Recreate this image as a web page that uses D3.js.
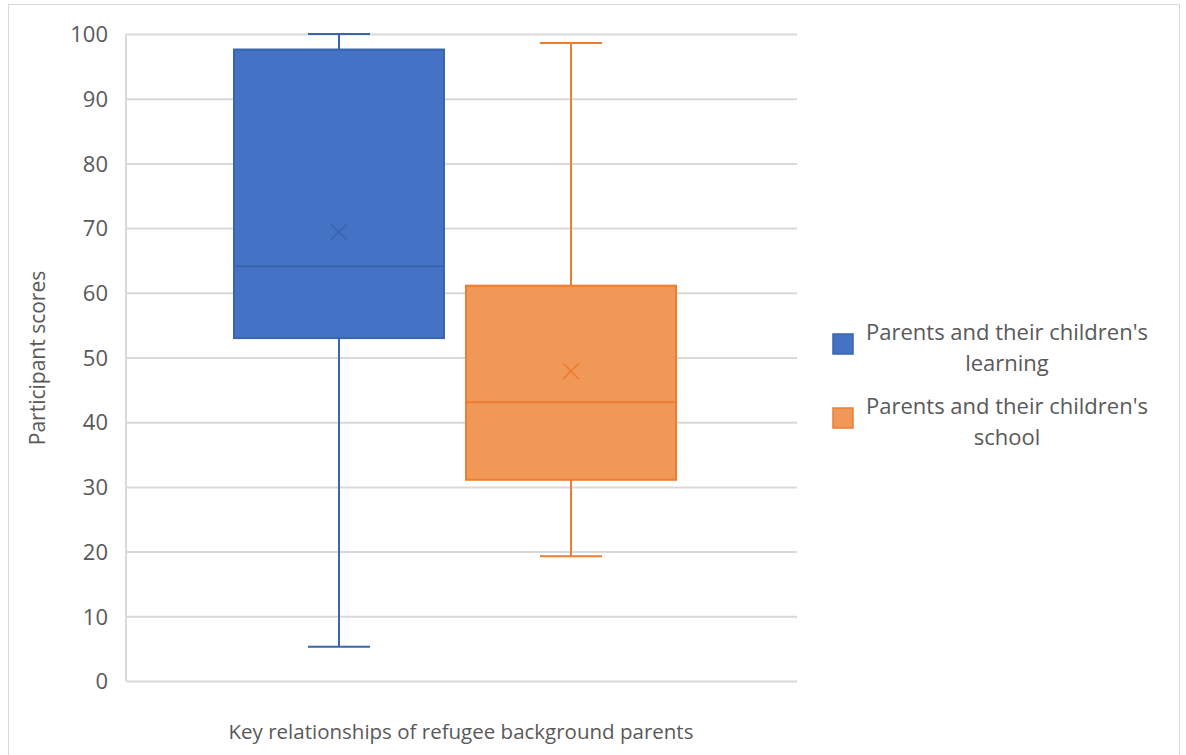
<!DOCTYPE html>
<html>
<head>
<meta charset="utf-8">
<script src="https://cdn.jsdelivr.net/npm/d3@7"></script>
<style>
  html, body { margin: 0; padding: 0; background: #fff; }
  svg { display: block; font-family: "Open Sans", "Noto Sans", sans-serif; }
</style>
</head>
<body>
<svg id="chart" width="1186" height="755"></svg>
<script>
// Box plot summary for each relationship series
const seriesNames = ["Parents and their children's learning", "Parents and their children's school"];
const legendLines = [["Parents and their children's", "learning"], ["Parents and their children's", "school"]];
const whiskerMin = [5.3, 19.3];
const q1 = [53.0, 31.1];
const median = [64.1, 43.1];
const q3 = [97.6, 61.1];
const whiskerMax = [100, 98.6];
const mean = [69.4, 47.9];
const fills = ["#4472C4", "#F09858"];
const strokes = ["#3A64AE", "#ED7D31"];
const yTicks = [0, 10, 20, 30, 40, 50, 60, 70, 80, 90, 100];
const categoryLabel = "Key relationships of refugee background parents";
const yTitle = "Participant scores";

const FONT = '"Open Sans", "Noto Sans", sans-serif';
const svg = d3.select("#chart");

// chart frame
svg.append("rect").attr("x", 8.5).attr("y", 4.5).attr("width", 1171).attr("height", 760)
  .attr("fill", "#fff").attr("stroke", "#d9d9d9").attr("stroke-width", 1);

const plot = { left: 126, right: 797, top: 34, bottom: 681 };

const y = d3.scaleLinear().domain([0, 100]).range([plot.bottom, plot.top]);
const x = d3.scaleBand().domain(seriesNames).range([234, 676]).paddingInner(0.095);

// gridlines and tick labels
const yAxis = d3.axisLeft(y).tickValues(yTicks).tickSize(-(plot.right - plot.left)).tickPadding(18);
const gAxis = svg.append("g").attr("transform", `translate(${plot.left},0)`).call(yAxis)
  .attr("font-family", FONT);
gAxis.select(".domain").remove();
gAxis.selectAll(".tick line").attr("stroke", "#d9d9d9").attr("stroke-width", 2);
gAxis.selectAll(".tick text").attr("fill", "#595959").attr("font-size", 22).attr("dy", "0.35em");
// left axis line
svg.append("line").attr("x1", plot.left).attr("x2", plot.left)
  .attr("y1", plot.top).attr("y2", plot.bottom).attr("stroke", "#d9d9d9").attr("stroke-width", 2);

// boxes
seriesNames.forEach((name, i) => {
  const g = svg.append("g");
  const x0 = x(name), w = x.bandwidth(), cx = x0 + w / 2;
  const capHalf = 31;
  // whiskers
  g.append("line").attr("x1", cx).attr("x2", cx).attr("y1", y(whiskerMax[i])).attr("y2", y(q3[i]))
    .attr("stroke", strokes[i]).attr("stroke-width", 2);
  g.append("line").attr("x1", cx).attr("x2", cx).attr("y1", y(q1[i])).attr("y2", y(whiskerMin[i]))
    .attr("stroke", strokes[i]).attr("stroke-width", 2);
  [whiskerMax[i], whiskerMin[i]].forEach(v => {
    g.append("line").attr("x1", cx - capHalf).attr("x2", cx + capHalf).attr("y1", y(v)).attr("y2", y(v))
      .attr("stroke", strokes[i]).attr("stroke-width", 2);
  });
  // box
  g.append("rect").attr("x", x0).attr("width", w).attr("y", y(q3[i])).attr("height", y(q1[i]) - y(q3[i]))
    .attr("fill", fills[i]).attr("stroke", strokes[i]).attr("stroke-width", 2);
  // median
  g.append("line").attr("x1", x0).attr("x2", x0 + w).attr("y1", y(median[i])).attr("y2", y(median[i]))
    .attr("stroke", strokes[i]).attr("stroke-width", 2);
  // mean marker
  const my = y(mean[i]), s = 8;
  g.append("path").attr("d", `M${cx - s},${my - s}L${cx + s},${my + s}M${cx - s},${my + s}L${cx + s},${my - s}`)
    .attr("stroke", strokes[i]).attr("stroke-width", 1.6).attr("fill", "none");
});

// axis titles
svg.append("text").attr("x", 461).attr("y", 739).attr("text-anchor", "middle")
  .attr("fill", "#595959").attr("font-size", 20.5).text(categoryLabel);
svg.append("text").attr("transform", "translate(45,358) rotate(-90)").attr("text-anchor", "middle")
  .attr("fill", "#595959").attr("font-size", 21).text(yTitle);

// legend
const legend = svg.append("g");
legendLines.forEach((lines, i) => {
  const top = 334 + i * 74;
  legend.append("rect").attr("x", 833).attr("y", top).attr("width", 20).attr("height", 20)
    .attr("fill", fills[i]).attr("stroke", strokes[i]).attr("stroke-width", 1.5);
  lines.forEach((ln, j) => {
    legend.append("text").attr("x", 1007).attr("y", top + 6 + j * 31).attr("text-anchor", "middle")
      .attr("fill", "#595959").attr("font-size", 22).text(ln);
  });
});
</script>
</body>
</html>
